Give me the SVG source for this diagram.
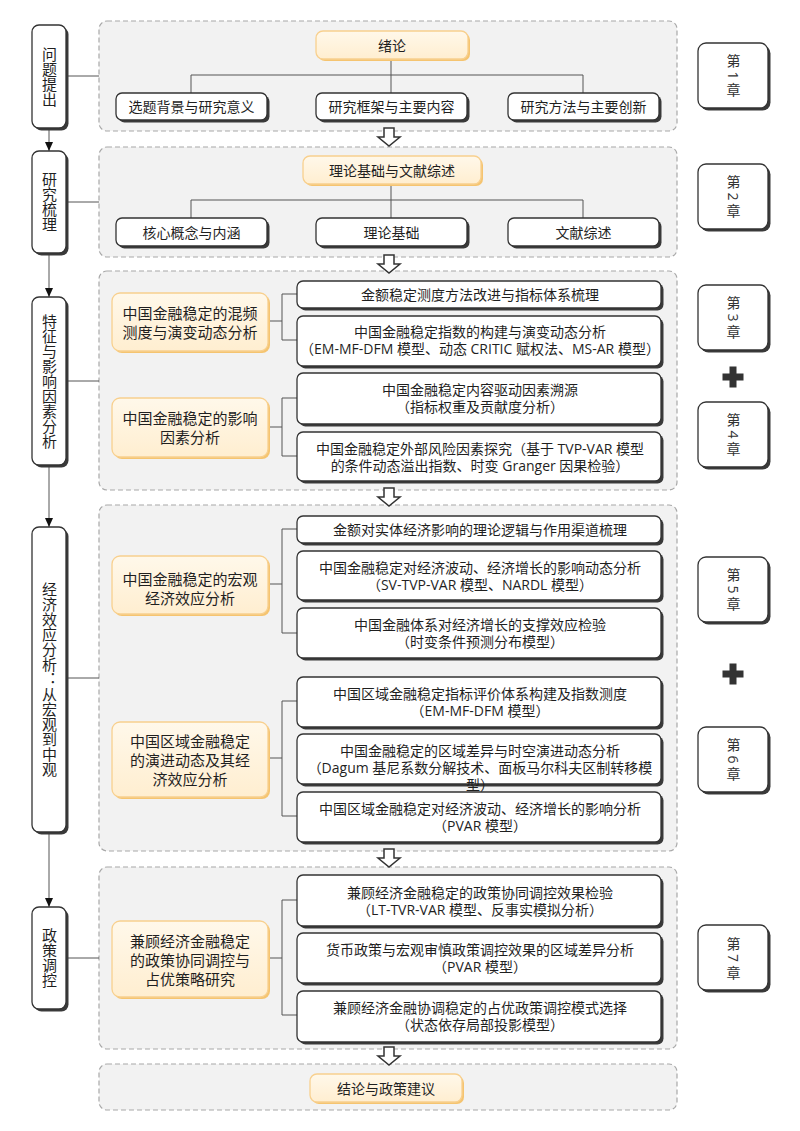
<svg xmlns="http://www.w3.org/2000/svg" xmlns:xlink="http://www.w3.org/1999/xlink" width="800" height="1131" viewBox="0 0 800 1131">
<defs>
<style>
.grp{fill:#f2f2f2;stroke:#a8a8a8;stroke-width:1.2;stroke-dasharray:5 3}
.box{fill:#fff;stroke:#333;stroke-width:1.3}
.sh{fill:#3a3a3a}
.obox{fill:url(#og);stroke:#f8d08e;stroke-width:1.3}
.osh{fill:#f5c470}
.t{font-family:"Open Sans","Noto Sans CJK SC",sans-serif;font-size:14px;fill:#1f1f1f;text-anchor:middle;dominant-baseline:central}
.t15{font-size:15px}
.v{writing-mode:vertical-rl;font-size:15px}
.ch{writing-mode:vertical-rl;font-size:14px;fill:#333}
.ln{stroke:#555;stroke-width:1;fill:none}
.arr{fill:#fff;stroke:#333;stroke-width:1.5;stroke-linejoin:miter}
</style>
<linearGradient id="og" x1="0" y1="0" x2="0" y2="1"><stop offset="0" stop-color="#fff8ea"/><stop offset="1" stop-color="#ffeed0"/></linearGradient>
<marker id="ah" markerWidth="10" markerHeight="10" refX="9" refY="5" orient="auto" markerUnits="userSpaceOnUse"><path d="M0 1 L9 5 L0 9 Z" fill="#111"/></marker>
<path id="harrow" d="M-5 0 H5 V9 H11 L0 18 L-11 9 H-5 Z"/>
<path id="plus" d="M-3.5 -10.5 H3.5 V-3.5 H10.5 V3.5 H3.5 V10.5 H-3.5 V3.5 H-10.5 V-3.5 H-3.5 Z"/>
</defs>

<!-- dashed stage groups -->
<g id="stages">
<rect class="grp" x="99" y="21" width="578" height="110" rx="8"/>
<rect class="grp" x="99" y="147" width="578" height="110" rx="8"/>
<rect class="grp" x="99" y="271" width="578" height="219" rx="8"/>
<rect class="grp" x="99" y="505" width="578" height="346" rx="8"/>
<rect class="grp" x="99" y="867" width="578" height="182" rx="8"/>
<rect class="grp" x="99" y="1064" width="578" height="46" rx="8"/>
</g>

<!-- connectors -->
<g id="connectors">
<path class="ln" d="M66 76 H99 M66 202 H99 M66 381 H99 M66 678 H99 M66 958 H99"/>
<path class="ln" d="M49 128 V151" marker-end="url(#ah)"/>
<path class="ln" d="M49 253 V297" marker-end="url(#ah)"/>
<path class="ln" d="M49 465 V527" marker-end="url(#ah)"/>
<path class="ln" d="M49 832 V907" marker-end="url(#ah)"/>
<path class="ln" d="M391 59 V93 M191 75 H583 M191 75 V93 M583 75 V93"/>
<path class="ln" d="M391 184 V218 M191 200 H583 M191 200 V218 M583 200 V218"/>
<path class="ln" d="M268 321 H282 M282 294 V340 M282 294 H297 M282 340 H297"/>
<path class="ln" d="M268 427 H282 M282 398 V456 M282 398 H297 M282 456 H297"/>
<path class="ln" d="M268 584 H282 M282 529 V633 M282 529 H297 M282 633 H297"/>
<path class="ln" d="M268 758 H282 M282 701 V816 M282 701 H297 M282 816 H297"/>
<path class="ln" d="M268 958 H282 M282 900 V1015 M282 900 H297 M282 1015 H297"/>
<g class="arr">
<use xlink:href="#harrow" x="389" y="128"/>
<use xlink:href="#harrow" x="389" y="255"/>
<use xlink:href="#harrow" x="389" y="488"/>
<use xlink:href="#harrow" x="389" y="849"/>
<use xlink:href="#harrow" x="389" y="1047"/>
</g>
</g>

<!-- left phase boxes -->
<g id="phase1"><rect class="sh" x="34.5" y="27.5" width="34" height="103" rx="7"/><rect class="box" x="32" y="25" width="34" height="103" rx="7"/><text class="t v" x="49" y="76.5">问题提出</text></g>
<g id="phase2"><rect class="sh" x="34.5" y="153.5" width="34" height="102" rx="7"/><rect class="box" x="32" y="151" width="34" height="102" rx="7"/><text class="t v" x="49" y="202">研究梳理</text></g>
<g id="phase3"><rect class="sh" x="34.5" y="299.5" width="34" height="168" rx="7"/><rect class="box" x="32" y="297" width="34" height="168" rx="7"/><text class="t v" x="49" y="381">特征与影响因素分析</text></g>
<g id="phase4"><rect class="sh" x="34.5" y="529.5" width="34" height="305" rx="7"/><rect class="box" x="32" y="527" width="34" height="305" rx="7"/><text class="t v" x="49" y="679">经济效应分析：从宏观到中观</text></g>
<g id="phase5"><rect class="sh" x="34.5" y="909.5" width="34" height="102" rx="7"/><rect class="box" x="32" y="907" width="34" height="102" rx="7"/><text class="t v" x="49" y="958">政策调控</text></g>

<!-- stage 1 -->
<g id="n-xulun"><rect class="osh" x="318" y="33" width="152" height="28" rx="7"/><rect class="obox" x="316" y="31" width="152" height="28" rx="7"/><text class="t" x="392" y="45">绪论</text></g>
<g id="n-1a"><rect class="sh" x="118.5" y="95.5" width="151" height="27" rx="6"/><rect class="box" x="116" y="93" width="151" height="27" rx="6"/><text class="t" x="191.5" y="106.5">选题背景与研究意义</text></g>
<g id="n-1b"><rect class="sh" x="318.5" y="95.5" width="151" height="27" rx="6"/><rect class="box" x="316" y="93" width="151" height="27" rx="6"/><text class="t" x="391.5" y="106.5">研究框架与主要内容</text></g>
<g id="n-1c"><rect class="sh" x="510.5" y="95.5" width="151" height="27" rx="6"/><rect class="box" x="508" y="93" width="151" height="27" rx="6"/><text class="t" x="583.5" y="106.5">研究方法与主要创新</text></g>

<!-- stage 2 -->
<g id="n-lilun"><rect class="osh" x="305" y="158" width="178" height="28" rx="7"/><rect class="obox" x="303" y="156" width="178" height="28" rx="7"/><text class="t" x="392" y="170">理论基础与文献综述</text></g>
<g id="n-2a"><rect class="sh" x="118.5" y="220.5" width="151" height="28" rx="6"/><rect class="box" x="116" y="218" width="151" height="28" rx="6"/><text class="t" x="191.5" y="232">核心概念与内涵</text></g>
<g id="n-2b"><rect class="sh" x="318.5" y="220.5" width="151" height="28" rx="6"/><rect class="box" x="316" y="218" width="151" height="28" rx="6"/><text class="t" x="391.5" y="232">理论基础</text></g>
<g id="n-2c"><rect class="sh" x="510.5" y="220.5" width="151" height="28" rx="6"/><rect class="box" x="508" y="218" width="151" height="28" rx="6"/><text class="t" x="583.5" y="232">文献综述</text></g>

<!-- stage 3 -->
<g id="n-3o1"><rect class="osh" x="114" y="295" width="156" height="58" rx="8"/><rect class="obox" x="112" y="293" width="156" height="58" rx="8"/><text class="t t15" x="190" y="312.5">中国金融稳定的混频</text><text class="t t15" x="190" y="331.5">测度与演变动态分析</text></g>
<g id="n-3o2"><rect class="osh" x="114" y="400" width="156" height="59" rx="8"/><rect class="obox" x="112" y="398" width="156" height="59" rx="8"/><text class="t t15" x="190" y="418">中国金融稳定的影响</text><text class="t t15" x="190" y="437">因素分析</text></g>
<g id="n-3a"><rect class="sh" x="299.5" y="283.5" width="364" height="27" rx="6"/><rect class="box" x="297" y="281" width="364" height="27" rx="6"/><text class="t" x="480" y="294.5">金额稳定测度方法改进与指标体系梳理</text></g>
<g id="n-3b"><rect class="sh" x="299.5" y="318.5" width="364" height="50" rx="6"/><rect class="box" x="297" y="316" width="364" height="50" rx="6"/><text class="t" x="480" y="331.5">中国金融稳定指数的构建与演变动态分析</text><text class="t" x="480" y="348.5">（EM-MF-DFM 模型、动态 CRITIC 赋权法、MS-AR 模型）</text></g>
<g id="n-3c"><rect class="sh" x="299.5" y="375.5" width="364" height="51" rx="6"/><rect class="box" x="297" y="373" width="364" height="51" rx="6"/><text class="t" x="480" y="389.5">中国金融稳定内容驱动因素溯源</text><text class="t" x="480" y="406.5">（指标权重及贡献度分析）</text></g>
<g id="n-3d"><rect class="sh" x="299.5" y="434.5" width="364" height="49" rx="6"/><rect class="box" x="297" y="432" width="364" height="49" rx="6"/><text class="t" x="480" y="448">中国金融稳定外部风险因素探究（基于 TVP-VAR 模型</text><text class="t" x="480" y="465">的条件动态溢出指数、时变 Granger 因果检验）</text></g>

<!-- stage 4 -->
<g id="n-4o1"><rect class="osh" x="114" y="558" width="156" height="58" rx="8"/><rect class="obox" x="112" y="556" width="156" height="58" rx="8"/><text class="t t15" x="190" y="578.5">中国金融稳定的宏观</text><text class="t t15" x="190" y="597.5">经济效应分析</text></g>
<g id="n-4o2"><rect class="osh" x="114" y="724" width="156" height="75" rx="8"/><rect class="obox" x="112" y="722" width="156" height="75" rx="8"/><text class="t t15" x="190" y="741">中国区域金融稳定</text><text class="t t15" x="190" y="760">的演进动态及其经</text><text class="t t15" x="190" y="779">济效应分析</text></g>
<g id="n-4a"><rect class="sh" x="299.5" y="518.5" width="364" height="27" rx="6"/><rect class="box" x="297" y="516" width="364" height="27" rx="6"/><text class="t" x="480" y="529.5">金额对实体经济影响的理论逻辑与作用渠道梳理</text></g>
<g id="n-4b"><rect class="sh" x="299.5" y="553.5" width="364" height="49" rx="6"/><rect class="box" x="297" y="551" width="364" height="49" rx="6"/><text class="t" x="480" y="567">中国金融稳定对经济波动、经济增长的影响动态分析</text><text class="t" x="480" y="584">（SV-TVP-VAR 模型、NARDL 模型）</text></g>
<g id="n-4c"><rect class="sh" x="299.5" y="610.5" width="364" height="50" rx="6"/><rect class="box" x="297" y="608" width="364" height="50" rx="6"/><text class="t" x="480" y="624">中国金融体系对经济增长的支撑效应检验</text><text class="t" x="480" y="641">（时变条件预测分布模型）</text></g>
<g id="n-4d"><rect class="sh" x="299.5" y="679.5" width="364" height="50" rx="6"/><rect class="box" x="297" y="677" width="364" height="50" rx="6"/><text class="t" x="480" y="693">中国区域金融稳定指标评价体系构建及指数测度</text><text class="t" x="480" y="710">（EM-MF-DFM 模型）</text></g>
<g id="n-4e"><rect class="sh" x="299.5" y="736.5" width="364" height="50" rx="6"/><rect class="box" x="297" y="734" width="364" height="50" rx="6"/><text class="t" x="480" y="750">中国金融稳定的区域差异与时空演进动态分析</text><text class="t" x="480" y="767">（Dagum 基尼系数分解技术、面板马尔科夫区制转移模</text><text class="t" x="480" y="784">型）</text></g>
<g id="n-4f"><rect class="sh" x="299.5" y="794.5" width="364" height="50" rx="6"/><rect class="box" x="297" y="792" width="364" height="50" rx="6"/><text class="t" x="480" y="808.5">中国区域金融稳定对经济波动、经济增长的影响分析</text><text class="t" x="480" y="825.5">（PVAR 模型）</text></g>

<!-- stage 5 -->
<g id="n-5o"><rect class="osh" x="114" y="923" width="156" height="76" rx="8"/><rect class="obox" x="112" y="921" width="156" height="76" rx="8"/><text class="t t15" x="190" y="941">兼顾经济金融稳定</text><text class="t t15" x="190" y="960">的政策协同调控与</text><text class="t t15" x="190" y="979">占优策略研究</text></g>
<g id="n-5a"><rect class="sh" x="299.5" y="877.5" width="364" height="51" rx="6"/><rect class="box" x="297" y="875" width="364" height="51" rx="6"/><text class="t" x="480" y="892">兼顾经济金融稳定的政策协同调控效果检验</text><text class="t" x="480" y="909">（LT-TVR-VAR 模型、反事实模拟分析）</text></g>
<g id="n-5b"><rect class="sh" x="299.5" y="935.5" width="364" height="50" rx="6"/><rect class="box" x="297" y="933" width="364" height="50" rx="6"/><text class="t" x="480" y="949.5">货币政策与宏观审慎政策调控效果的区域差异分析</text><text class="t" x="480" y="966.5">（PVAR 模型）</text></g>
<g id="n-5c"><rect class="sh" x="299.5" y="993.5" width="364" height="51" rx="6"/><rect class="box" x="297" y="991" width="364" height="51" rx="6"/><text class="t" x="480" y="1007.5">兼顾经济金融协调稳定的占优政策调控模式选择</text><text class="t" x="480" y="1024.5">（状态依存局部投影模型）</text></g>

<!-- stage 6 -->
<g id="n-jielun"><rect class="osh" x="312" y="1076" width="152" height="28" rx="7"/><rect class="obox" x="310" y="1074" width="152" height="28" rx="7"/><text class="t" x="386" y="1088">结论与政策建议</text></g>

<!-- chapter labels -->
<g id="ch1"><rect class="sh" x="700.5" y="45.5" width="70" height="65" rx="8"/><rect class="box" x="698" y="43" width="70" height="65" rx="8"/><text class="t ch" x="733" y="75.5">第 1 章</text></g>
<g id="ch2"><rect class="sh" x="700.5" y="166.5" width="70" height="65" rx="8"/><rect class="box" x="698" y="164" width="70" height="65" rx="8"/><text class="t ch" x="733" y="196.5">第 2 章</text></g>
<g id="ch3"><rect class="sh" x="700.5" y="287.5" width="70" height="65" rx="8"/><rect class="box" x="698" y="285" width="70" height="65" rx="8"/><text class="t ch" x="733" y="317.5">第 3 章</text></g>
<g id="plus1"><use xlink:href="#plus" x="733" y="377" fill="#333"/></g>
<g id="ch4"><rect class="sh" x="700.5" y="404.5" width="70" height="65" rx="8"/><rect class="box" x="698" y="402" width="70" height="65" rx="8"/><text class="t ch" x="733" y="434.5">第 4 章</text></g>
<g id="ch5"><rect class="sh" x="700.5" y="559.5" width="70" height="65" rx="8"/><rect class="box" x="698" y="557" width="70" height="65" rx="8"/><text class="t ch" x="733" y="589.5">第 5 章</text></g>
<g id="plus2"><use xlink:href="#plus" x="733" y="674" fill="#333"/></g>
<g id="ch6"><rect class="sh" x="700.5" y="729.5" width="70" height="65" rx="8"/><rect class="box" x="698" y="727" width="70" height="65" rx="8"/><text class="t ch" x="733" y="759.5">第 6 章</text></g>
<g id="ch7"><rect class="sh" x="700.5" y="927.5" width="70" height="65" rx="8"/><rect class="box" x="698" y="925" width="70" height="65" rx="8"/><text class="t ch" x="733" y="958">第 7 章</text></g>
</svg>
